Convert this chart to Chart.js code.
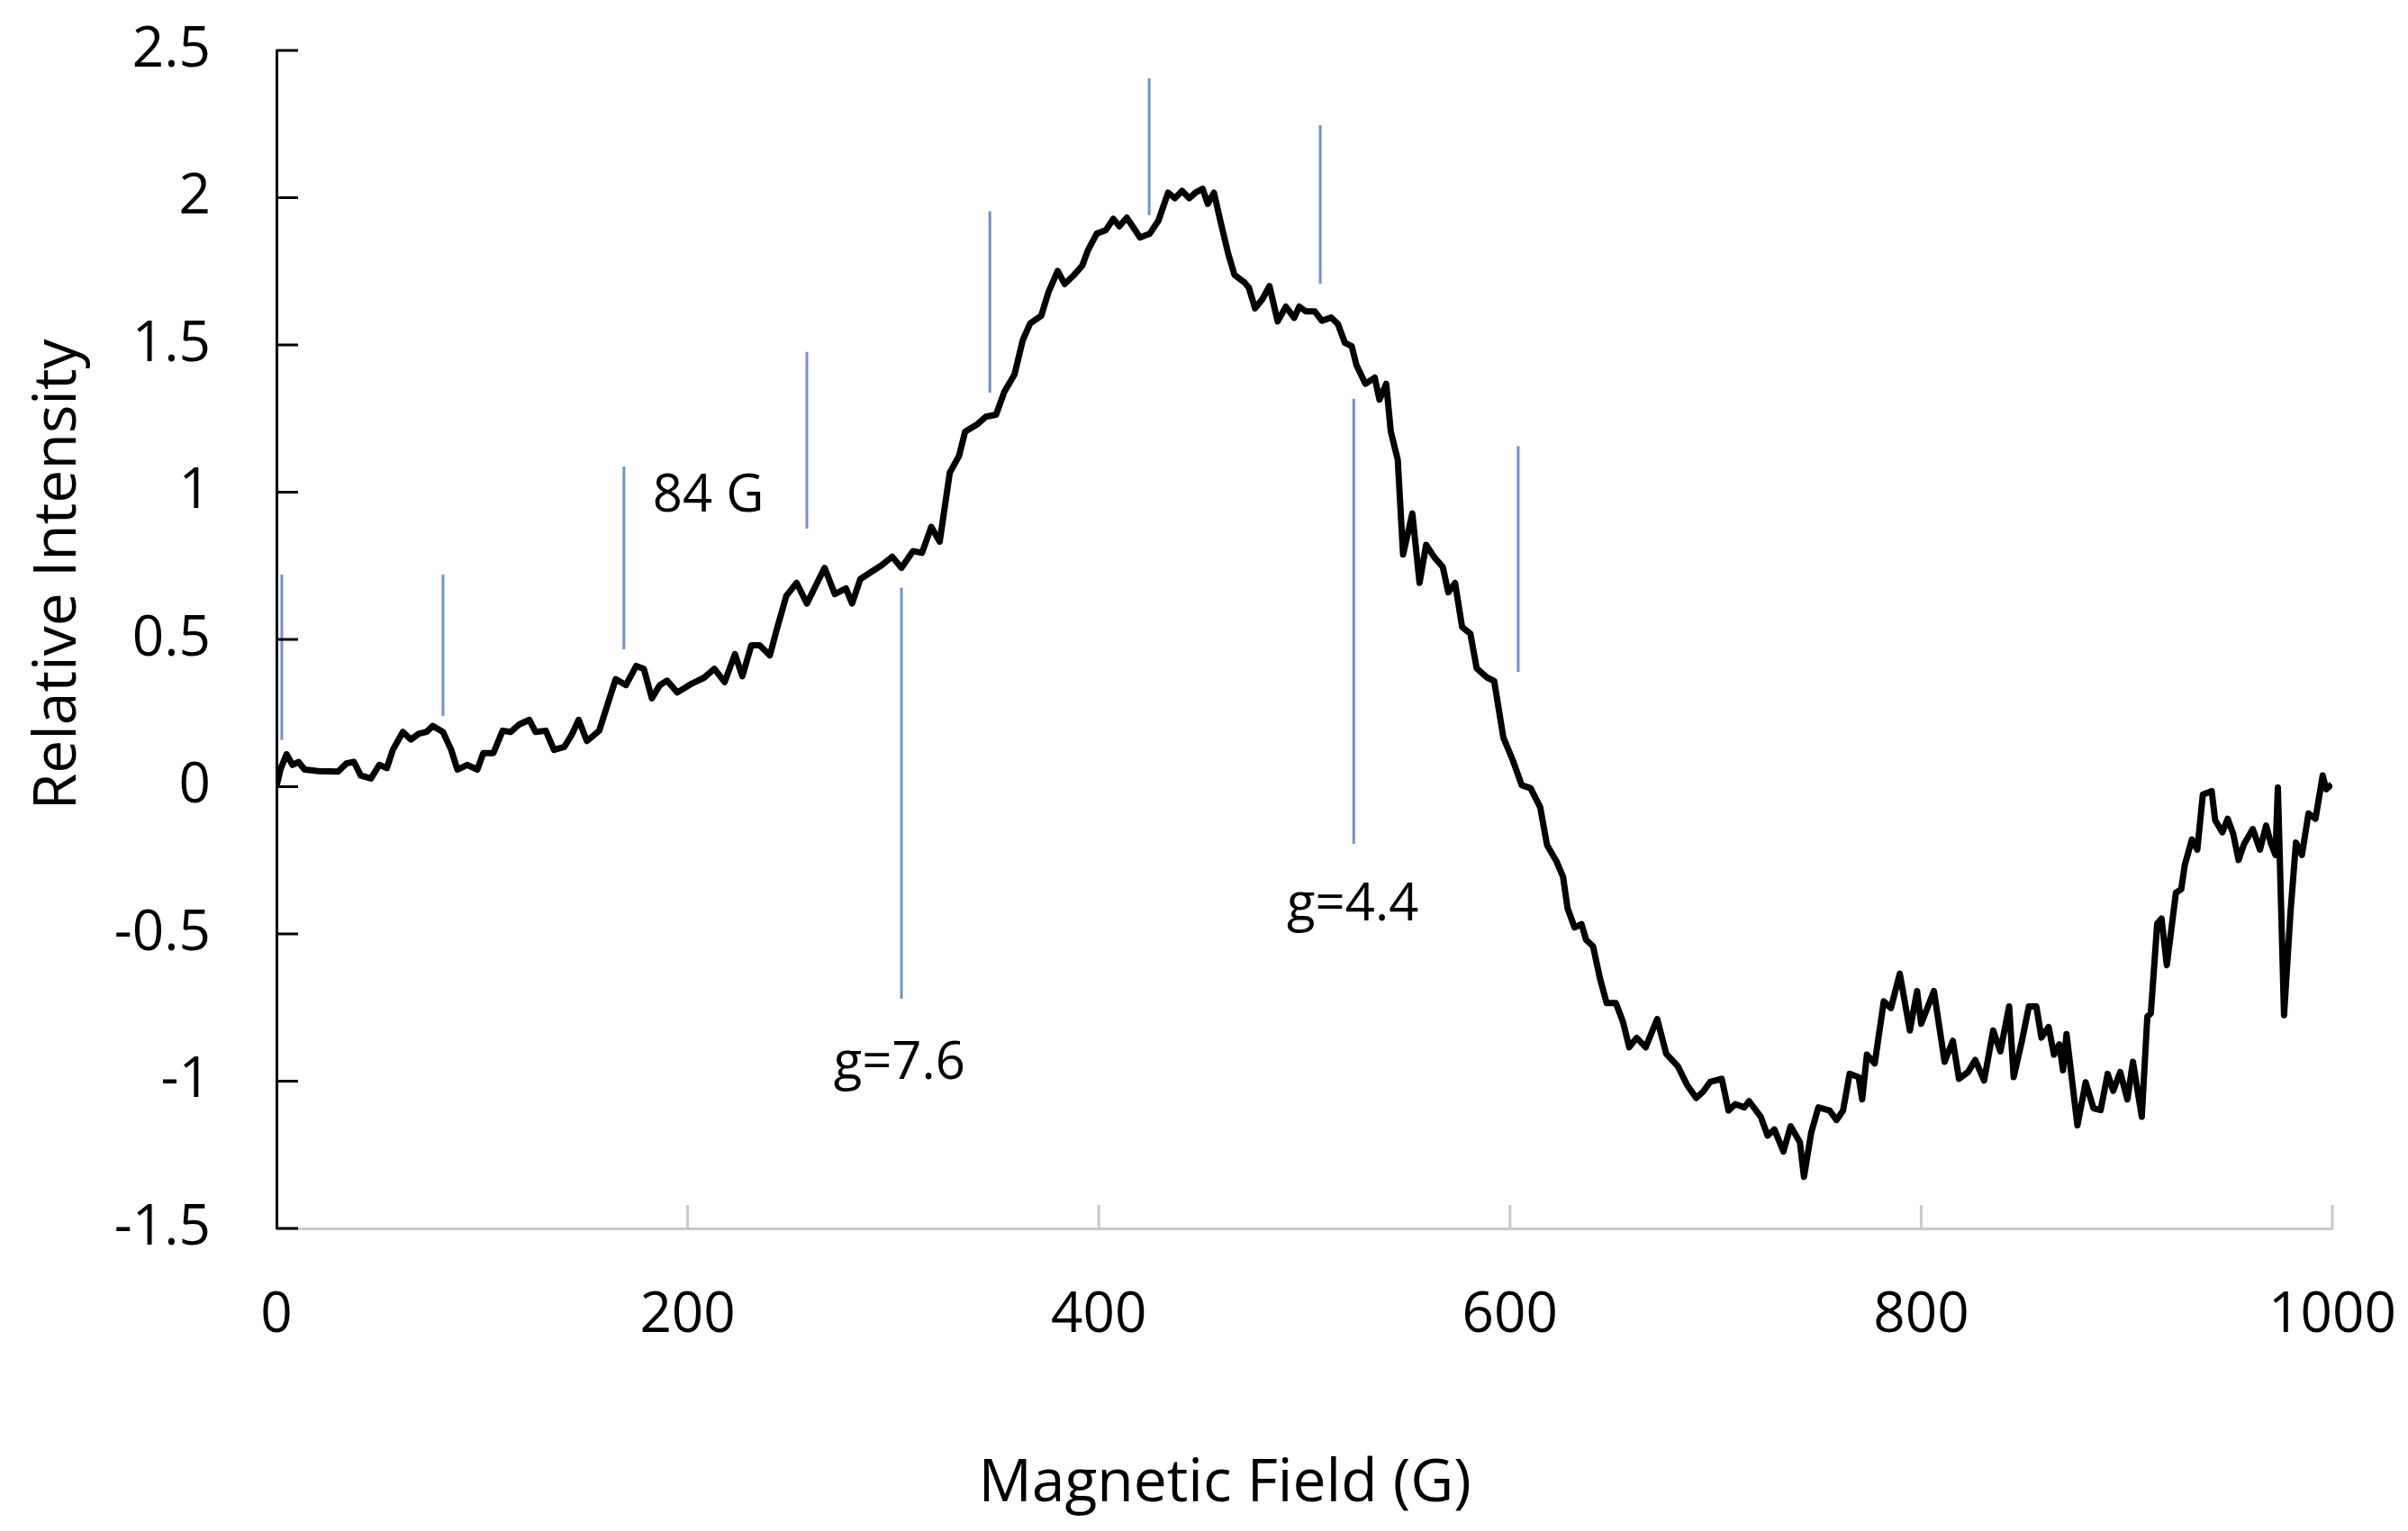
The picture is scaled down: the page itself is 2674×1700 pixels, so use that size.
<!DOCTYPE html>
<html>
<head>
<meta charset="utf-8">
<script src="https://cdn.jsdelivr.net/npm/chart.js@4.4.0/dist/chart.umd.min.js"></script>
<style>
  html, body { margin: 0; padding: 0; background: #fff; }
  #wrap { width: 2674px; height: 1700px; }
</style>
</head>
<body>
<div id="wrap"><canvas id="epr" width="2674" height="1700"></canvas></div>
<script>
// spectrum
const field = [
  0, 2, 4.9, 7.8, 10.7, 13.7, 20.5, 30, 34, 37.7, 41, 46, 50, 53.7, 56.6, 61.5, 65.4, 69.3, 73, 76,
  81, 85, 88, 92.8, 97.7, 100.6, 105.5, 110, 114, 118, 123, 126, 131, 135, 140, 143.6, 147, 151, 157, 161,
  165, 170, 175, 178.7, 182.6, 186.5, 190, 195, 202, 208, 213, 218, 223, 226.6, 231, 235, 240,
  243.6, 248, 253, 258, 266.6, 271.6, 277, 280, 284, 289.5, 294, 299.5, 304, 309.6, 314, 318.5, 322.6,
  327.5, 332, 335, 341, 345, 350, 354, 359, 363, 366.6, 372, 375.6, 380, 383.4, 388, 392, 394.6, 399,
  403.5, 407, 410, 413.6, 417, 420, 424.8, 429, 433.7, 437, 440.5, 444, 447, 450.5, 453, 456, 459.5,
  463, 466, 470.7, 473, 476, 479.6, 483, 487, 491, 495, 497.5,
  500.7, 505, 508.5, 513, 516.3, 519.7, 523, 525.3, 529.7, 534.2, 536.5, 539.8, 542, 545.4, 548, 552.5,
  556, 559.2, 563.3, 567.3, 570, 573.3, 576.7, 580.7, 583.8, 589, 592.3, 596.8, 601.3, 605.7, 610, 614.7,
  618, 622.5, 625.8, 628, 631.4, 634.8, 637, 640.4, 643.7, 647, 651.5, 655, 658, 661.6, 666, 671.6, 676,
  681.7, 686.2, 690.6, 694, 697.3, 703, 706.3, 709.6, 714, 716.3, 722, 725.3, 728.6, 733, 736.5, 741, 743,
  746.5, 750, 755.5, 758.8, 762,
  765.2, 769.6, 771.3, 773.6, 777.4, 781.8, 785.3, 789.6, 794.5, 798, 800, 806.2, 811.4, 815.4, 818.4,
  822.8, 826.3, 830.6, 835, 838.5, 842.8, 845, 849, 852.4, 856, 858.5, 862, 864.6, 867.2, 869, 870.7, 876,
  880, 883.8, 887.3, 890.7, 893.4, 896.8, 900.3, 903, 907.3, 910, 911.7, 914.8, 916.9, 919.5, 923.9, 926.5,
  928.2, 931.7, 934.3, 937, 941.3, 943, 946.5, 949.1, 951.8, 954.4, 957, 961.3, 964.8, 967.8, 970, 972.3,
  973.5, 976.5, 979.6, 982.3, 985.2, 988.4, 991.8, 995.3, 997, 999.7
];
const intensity = [
  0.0, 0.06, 0.11, 0.074, 0.084, 0.058, 0.053, 0.051, 0.079, 0.084, 0.038, 0.028, 0.074, 0.063, 0.125, 0.186, 0.16, 0.18, 0.186, 0.206,
  0.186, 0.125, 0.058, 0.074, 0.058, 0.114, 0.114, 0.19, 0.186, 0.211, 0.227, 0.186, 0.19, 0.125, 0.135, 0.176, 0.227, 0.155, 0.19, 0.278,
  0.365, 0.345, 0.41, 0.40, 0.30, 0.345, 0.36, 0.32, 0.35, 0.37, 0.40, 0.355, 0.45, 0.375, 0.48, 0.48, 0.446,
  0.54, 0.648, 0.692, 0.622, 0.743, 0.654, 0.673, 0.622, 0.705, 0.73, 0.75, 0.781, 0.743, 0.80, 0.794, 0.882, 0.832,
  1.066, 1.123, 1.206, 1.231, 1.256, 1.263, 1.34, 1.40, 1.516, 1.573, 1.599, 1.681, 1.751, 1.707, 1.738, 1.77, 1.82, 1.878,
  1.89, 1.928, 1.903, 1.932, 1.897, 1.865, 1.878, 1.922, 2.017, 1.998, 2.023, 1.998, 2.017, 2.03, 1.979, 2.017, 1.91,
  1.808, 1.738, 1.713, 1.694, 1.624, 1.656, 1.70, 1.58, 1.63, 1.592, 1.63,
  1.614, 1.614, 1.582, 1.593, 1.571, 1.507, 1.496, 1.432, 1.368, 1.389, 1.314, 1.368, 1.207, 1.11, 0.788, 0.928,
  0.692, 0.821, 0.778, 0.746, 0.66, 0.692, 0.542, 0.52, 0.402, 0.37, 0.359, 0.166, 0.091, 0.005, -0.005, -0.07,
  -0.198, -0.252, -0.306, -0.413, -0.478, -0.467, -0.52, -0.542, -0.649, -0.735, -0.735, -0.8, -0.885, -0.853, -0.885, -0.789, -0.907,
  -0.95, -1.014, -1.057, -1.035, -1.003, -0.992, -1.1, -1.078, -1.089, -1.068, -1.121, -1.185, -1.164, -1.239, -1.153, -1.207, -1.325,
  -1.175, -1.089, -1.1, -1.132, -1.1,
  -0.975, -0.986, -1.062, -0.91, -0.94, -0.729, -0.752, -0.635, -0.828, -0.694, -0.805, -0.694, -0.934, -0.863, -0.992,
  -0.969, -0.928, -0.998, -0.828, -0.899, -0.746, -0.986, -0.863, -0.746, -0.746, -0.852, -0.816, -0.91, -0.875, -0.963, -0.84, -1.15,
  -1.004, -1.092, -1.098, -0.975, -1.033, -0.969, -1.062, -0.934, -1.121, -0.781, -0.77, -0.465, -0.448, -0.606, -0.36, -0.348,
  -0.267, -0.179, -0.214, -0.027, -0.015, -0.114, -0.155, -0.109, -0.161, -0.249, -0.196, -0.144, -0.214, -0.132, -0.19, -0.232,
  -0.003, -0.776, -0.43, -0.19, -0.232, -0.091, -0.109, 0.038, -0.009, 0.008
];

// blue hyperfine marker lines (field, top, bottom)
const markerField  = [2.6, 81, 169, 258, 347, 424.5, 507.7, 604, 304, 524];
const markerTop    = [0.72, 0.72, 1.087, 1.476, 1.954, 2.405, 2.246, 1.157, 0.676, 1.317];
const markerBottom = [0.158, 0.24, 0.466, 0.876, 1.338, 1.94, 1.708, 0.39, -0.72, -0.194];

// text labels in data space
const noteText  = ['84 G', 'g=7.6', 'g=4.4'];
const noteField = [183, 271, 491.5];
const noteLevel = [0.986, -0.943, -0.405];

const xTicks = [0, 200, 400, 600, 800, 1000];
const yMin = -1.5, yMax = 2.5, yStep = 0.5;

const FONT = "'Open Sans', 'DejaVu Sans', sans-serif";

const datasets = markerField.map((f, i) => ({
    data: [{ x: f, y: markerTop[i] }, { x: f, y: markerBottom[i] }],
    showLine: true,
    borderColor: '#7391cd',
    borderWidth: 3,
    pointRadius: 0,
    order: 2
}));
datasets.push({
    data: field.map((f, i) => ({ x: f, y: intensity[i] })),
    showLine: true,
    borderColor: '#000',
    borderWidth: 7,
    borderJoinStyle: 'round',
    pointRadius: 0,
    tension: 0,
    order: 1
});

// inner tick marks, axis titles and labels
const extras = {
    id: 'extras',
    afterDraw(chart) {
        const { ctx, chartArea: a, scales: { x, y } } = chart;
        ctx.save();
        ctx.lineWidth = 3;
        ctx.strokeStyle = '#000';
        y.ticks.forEach(t => {
            const py = y.getPixelForValue(t.value);
            ctx.beginPath();
            ctx.moveTo(a.left, py);
            ctx.lineTo(a.left + 24, py);
            ctx.stroke();
        });
        ctx.strokeStyle = '#c9c9c9';
        x.ticks.forEach(t => {
            if (t.value === 0) return;
            const px = x.getPixelForValue(t.value);
            ctx.beginPath();
            ctx.moveTo(px, a.bottom);
            ctx.lineTo(px, a.bottom - 26);
            ctx.stroke();
        });

        ctx.fillStyle = '#000';
        ctx.textBaseline = 'middle';
        ctx.font = '58px ' + FONT;
        ctx.textAlign = 'left';
        noteText.forEach((s, i) => {
            ctx.fillText(s, x.getPixelForValue(noteField[i]), y.getPixelForValue(noteLevel[i]));
        });

        ctx.font = '66px ' + FONT;
        ctx.textAlign = 'center';
        ctx.fillText('Magnetic Field (G)', 1360, 1648);
        ctx.translate(65, 638);
        ctx.rotate(-Math.PI / 2);
        ctx.fillText('Relative Intensity', 0, 0);
        ctx.restore();
    }
};

new Chart(document.getElementById('epr'), {
    type: 'scatter',
    data: { datasets },
    options: {
        responsive: false,
        devicePixelRatio: 1,
        animation: false,
        layout: { padding: { left: 0, right: 84, top: 56, bottom: 0 } },
        plugins: { legend: { display: false }, tooltip: { enabled: false } },
        scales: {
            x: {
                type: 'linear',
                min: 0,
                max: 1000,
                afterBuildTicks: s => { s.ticks = xTicks.map(v => ({ value: v })); },
                afterFit: s => { s.height = 336; s.paddingLeft = 0; s.paddingRight = 0; },
                grid: { display: false, drawTicks: false },
                border: { color: '#c9c9c9', width: 3 },
                ticks: {
                    padding: 60,
                    color: '#000',
                    font: { family: FONT, size: 62 },
                    callback: v => String(v)
                }
            },
            y: {
                min: yMin,
                max: yMax,
                afterFit: s => { s.width = 307; s.paddingTop = 0; s.paddingBottom = 0; },
                grid: { display: false, drawTicks: false },
                border: { color: '#000', width: 3 },
                ticks: {
                    stepSize: yStep,
                    padding: 73,
                    color: '#000',
                    font: { family: FONT, size: 62 },
                    callback: v => String(v)
                }
            }
        }
    },
    plugins: [extras]
});
</script>
</body>
</html>
